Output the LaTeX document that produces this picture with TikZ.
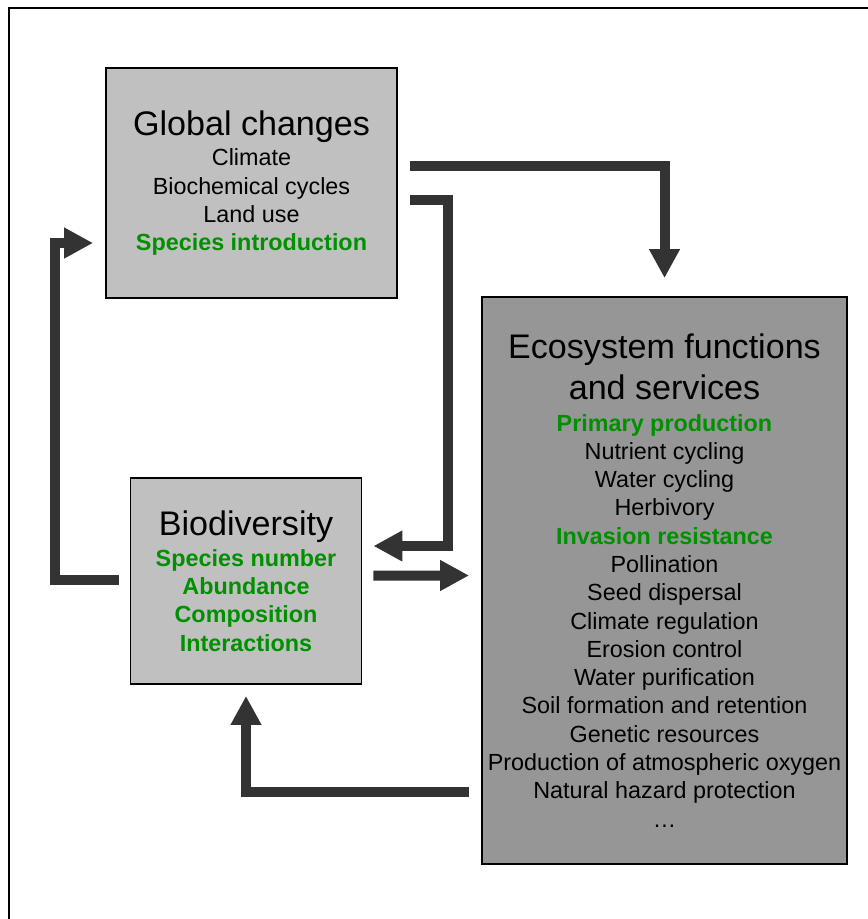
\documentclass[tikz,border=0pt]{standalone}
\usepackage{fontspec}
\setmainfont{Liberation Sans}
\usepackage{tikz}
\usetikzlibrary{arrows.meta,calc}

\definecolor{lightbox}{RGB}{192,192,192}
\definecolor{darkbox}{RGB}{150,150,150}
\definecolor{arrowgray}{RGB}{51,51,51}
\definecolor{leafgreen}{RGB}{0,145,0}

\newcommand{\headline}[1]{{\fontsize{19.4pt}{23pt}\selectfont #1}}
\newcommand{\greenitem}[1]{{\color{leafgreen}\bfseries #1}}

\begin{document}
\begin{tikzpicture}[x=0.02cm,y=-0.02cm,
  box/.style={draw=black,line width=1.1pt,inner sep=0pt,align=center,
    font=\fontsize{13.3pt}{16.1pt}\selectfont},
  flow/.style={draw=arrowgray,line width=0.2cm,
    -{Triangle[width=0.58cm,length=0.58cm]}}]
  \useasboundingbox (0,0) rectangle (867,919);

  % Rahmen (rechts und unten abgeschnitten)
  \draw[line width=0.7pt] (9,930) |- (880,8);

  % Kästen
  \node[box,fill=lightbox,minimum width=5.82cm,minimum height=4.6cm] (gc) at (251.5,183)
    {\headline{Global changes}\\[1.5pt]Climate\\Biochemical cycles\\Land use\\
     \greenitem{Species introduction}};
  \node[box,fill=lightbox,minimum width=4.62cm,minimum height=4.12cm] (bio) at (246,581)
    {\headline{Biodiversity}\\[1.5pt]\greenitem{Species number}\\\greenitem{Abundance}\\
     \greenitem{Composition}\\\greenitem{Interactions}};
  \node[box,fill=darkbox,minimum width=7.3cm,minimum height=11.34cm] (eco) at (664.5,580.5)
    {\headline{Ecosystem functions}\\[4pt]\headline{and services}\\[2pt]
     \greenitem{Primary production}\\Nutrient cycling\\Water cycling\\Herbivory\\
     \greenitem{Invasion resistance}\\Pollination\\Seed dispersal\\Climate regulation\\
     Erosion control\\Water purification\\Soil formation and retention\\
     Genetic resources\\Production of atmospheric oxygen\\Natural hazard protection\\\dots};

  % Pfeile
  \draw[flow] ($(gc.north east)+(12,99)$) -| ($(eco.north)+(0,-18)$);
  \draw[flow] ($(gc.north east)+(12,133)$) -- ++(38.5,0) |- ($(bio.east)+(11,-35)$);
  \draw[flow] ($(bio.east)+(11,-5.5)$) -- ($(eco.west)+(-12,-5)$);
  \draw[flow] ($(eco.west)+(-12,211.5)$) -| ($(bio.south)+(0,11)$);
  \draw[flow] ($(bio.west)+(-11,-1)$) -- ++(-64,0) |- ($(gc.west)+(-12,60)$);
\end{tikzpicture}
\end{document}
